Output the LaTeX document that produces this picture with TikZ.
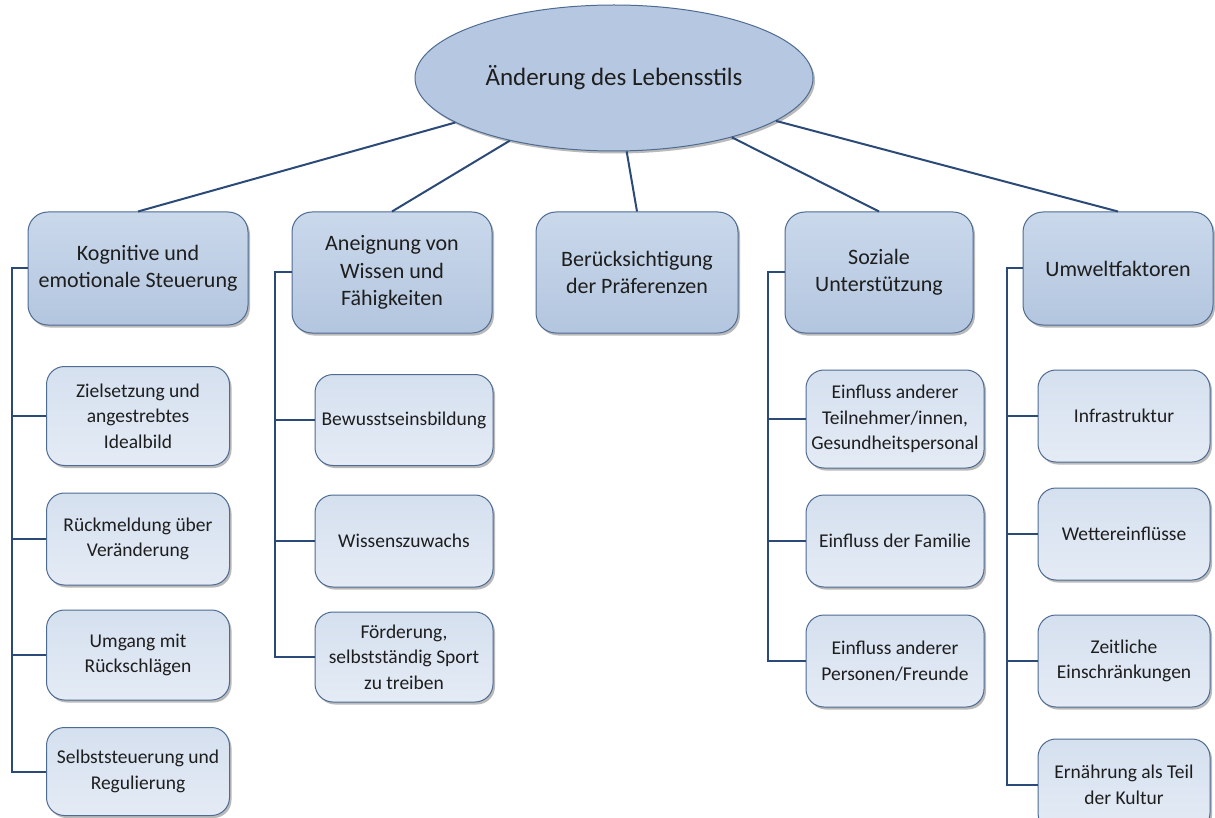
\documentclass[tikz,border=0pt]{standalone}
\usepackage{fontspec}
\setmainfont{Carlito}
\usetikzlibrary{shapes.geometric,shadows}
\definecolor{linkblue}{HTML}{2C4A78}
\definecolor{boxedge}{HTML}{4E6B92}
\definecolor{rootfill}{HTML}{B6C8E1}
\definecolor{topictop}{HTML}{CAD8EB}
\definecolor{topicbot}{HTML}{B3C6DF}
\definecolor{itemtop}{HTML}{D5E0EF}
\definecolor{itembot}{HTML}{E4EBF5}
\definecolor{textgray}{HTML}{1E1E1E}
\tikzset{
    tree diagram/.style = {x=1pt, y=-1pt},
    link/.style         = {draw=linkblue, line width=2pt},
    shade box/.style    = {drop shadow={shadow xshift=2pt, shadow yshift=-2.5pt,
                                        fill=black!60, opacity=.45}},
    root/.style         = {ellipse, draw=boxedge, line width=1pt, fill=rootfill,
                           shade box, text=textgray,
                           minimum width=398pt, minimum height=146pt,
                           font=\fontsize{25}{30}\selectfont},
    topic/.style        = {draw=boxedge, line width=1pt, rounded corners=20pt,
                           top color=topictop, bottom color=topicbot,
                           shade box, align=center, text=textgray,
                           font=\fontsize{22}{27.5}\selectfont},
    item/.style         = {draw=boxedge, line width=1pt, rounded corners=18pt,
                           top color=itemtop, bottom color=itembot,
                           shade box, align=center, text=textgray,
                           minimum height=92pt,
                           font=\fontsize{19.5}{25.5}\selectfont}
}
\begin{document}
\begin{tikzpicture}[tree diagram]
\path[use as bounding box, clip] (0,0) rectangle (1215,818);
\fill[white] (0,0) rectangle (1215,818);

% ================= Root =================
\node[root] (root) at (614,78) {Änderung des Lebensstils};

% ================= Main factors =================
\node[topic, minimum width=220pt, minimum height=113pt] (cog)    at (138,268.5)
    {Kognitive und\\emotionale Steuerung};
\node[topic, minimum width=200pt, minimum height=121pt] (know)   at (392,272.5)
    {Aneignung von\\Wissen und\\Fähigkeiten};
\node[topic, minimum width=202pt, minimum height=121pt] (pref)   at (637,272.5)
    {Berücksichtigung\\der Präferenzen};
\node[topic, minimum width=188pt, minimum height=121pt] (social) at (879,272.5)
    {Soziale\\Unterstützung};
\node[topic, minimum width=190pt, minimum height=113pt] (env)    at (1118,268.5)
    {Umweltfaktoren};

\draw[link] (root) -- (cog.north);
\draw[link] (root) -- (know.north);
\draw[link] (root) -- (pref.north);
\draw[link] (root) -- (social.north);
\draw[link] (root) -- (env.north);

% ================= Column 1: cognitive / emotional =================
\node[item, minimum width=183pt, minimum height=99pt] (cog1) at (138,416)
    {Zielsetzung und\\angestrebtes\\Idealbild};
\node[item, minimum width=183pt] (cog2) at (138,539) {Rückmeldung über\\Veränderung};
\node[item, minimum width=183pt, minimum height=90pt] (cog3) at (138,655)
    {Umgang mit\\Rückschlägen};
\node[item, minimum width=183pt, minimum height=88pt] (cog4) at (138,771.5)
    {Selbststeuerung und\\Regulierung};

\draw[link] (cog.west) -- ++(-16,0) |- (cog1.west);
\draw[link] (cog.west) -- ++(-16,0) |- (cog2.west);
\draw[link] (cog.west) -- ++(-16,0) |- (cog3.west);
\draw[link] (cog.west) -- ++(-16,0) |- (cog4.west);

% ================= Column 2: knowledge and skills =================
\node[item, minimum width=178pt, minimum height=91pt] (know1) at (404,420)
    {Bewusstseinsbildung};
\node[item, minimum width=178pt] (know2) at (404,541) {Wissenszuwachs};
\node[item, minimum width=178pt, minimum height=90pt] (know3) at (404,657)
    {Förderung,\\selbstständig Sport\\zu treiben};

\draw[link] (know.west) -- ++(-17,0) |- (know1.west);
\draw[link] (know.west) -- ++(-17,0) |- (know2.west);
\draw[link] (know.west) -- ++(-17,0) |- (know3.west);

% ================= Column 4: social support =================
\node[item, minimum width=178pt, minimum height=98pt] (social1) at (895,419)
    {Einfluss anderer\\Teilnehmer/innen,\\Gesundheitspersonal};
\node[item, minimum width=178pt] (social2) at (895,541) {Einfluss der Familie};
\node[item, minimum width=178pt] (social3) at (895,661)
    {Einfluss anderer\\Personen/Freunde};

\draw[link] (social.west) -- ++(-17,0) |- (social1.west);
\draw[link] (social.west) -- ++(-17,0) |- (social2.west);
\draw[link] (social.west) -- ++(-17,0) |- (social3.west);

% ================= Column 5: environment =================
\node[item, minimum width=172pt] (env1) at (1124,416) {Infrastruktur};
\node[item, minimum width=172pt] (env2) at (1124,534) {Wettereinflüsse};
\node[item, minimum width=172pt] (env3) at (1124,661)
    {Zeitliche\\Einschränkungen};
\node[item, minimum width=172pt] (env4) at (1124,785)
    {Ernährung als Teil\\der Kultur};

\draw[link] (env.west) -- ++(-16,0) |- (env1.west);
\draw[link] (env.west) -- ++(-16,0) |- (env2.west);
\draw[link] (env.west) -- ++(-16,0) |- (env3.west);
\draw[link] (env.west) -- ++(-16,0) |- (env4.west);

\end{tikzpicture}
\end{document}
